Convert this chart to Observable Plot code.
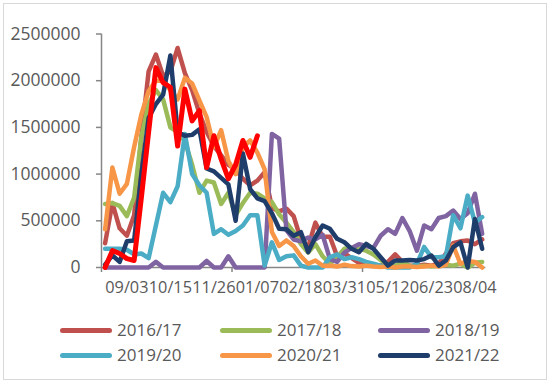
<!DOCTYPE html>
<html><head><meta charset="utf-8">
<script src="https://cdn.jsdelivr.net/npm/d3@7"></script>
<script src="https://cdn.jsdelivr.net/npm/@observablehq/plot@0.6"></script>
<style>
body{margin:0;background:#fff;font-family:"Open Sans",sans-serif;}
#frame{position:absolute;left:3px;top:3px;width:542px;height:375px;border:1px solid #d9d9d9;box-sizing:content-box;}
#chart{position:absolute;left:0;top:0;}
#legend{position:absolute;left:0;top:300px;width:550px;height:80px;}
.item{position:absolute;display:flex;align-items:center;font-size:17px;color:#595959;height:24px;line-height:24px;}
.sw{width:52px;height:5px;border-radius:3px;margin-right:5px;}
</style></head><body>
<div id="frame"></div>
<div id="chart"></div>
<div id="legend"></div>
<script>
// weekly categories (Tuesdays)
const weeks = ["08/13","08/20","08/27","09/03","09/10","09/17","09/24","10/01","10/08","10/15",
  "10/22","10/29","11/05","11/12","11/19","11/26","12/03","12/10","12/17","12/24",
  "12/31","01/07","01/14","01/21","01/28","02/04","02/11","02/18","02/25","03/03",
  "03/10","03/17","03/24","03/31","04/07","04/14","04/21","04/28","05/05","05/12",
  "05/19","05/26","06/02","06/09","06/16","06/23","06/30","07/07","07/14","07/21",
  "07/28","08/04","08/11"];
const labelWeeks = ["09/03","10/15","11/26","01/07","02/18","03/31","05/12","06/23","08/04"];
const yTicks = [0, 500000, 1000000, 1500000, 2000000, 2500000];

const seasons = ["2016/17","2017/18","2018/19","2019/20","2020/21","2021/22","2022/23"];
const colors  = ["#C0504D","#9BBB59","#8064A2","#4BACC6","#F79646","#1F3D6B","#FF0000"];
const legendSeasons = ["2016/17","2017/18","2018/19","2019/20","2020/21","2021/22"];

const s2016 = [260000,690000,420000,340000,560000,1400000,2100000,2280000,2050000,2100000,
  2350000,2080000,1900000,1650000,1450000,1300000,1200000,1100000,1050000,950000,
  880000,930000,1020000,640000,600000,630000,550000,300000,220000,480000,
  330000,330000,120000,150000,100000,50000,40000,30000,20000,60000,
  140000,60000,20000,20000,30000,20000,40000,150000,260000,280000,
  290000,250000,300000];
const s2017 = [680000,690000,660000,550000,750000,1400000,1750000,1900000,1800000,1500000,
  1450000,1350000,1100000,800000,930000,910000,680000,800000,560000,690000,
  800000,790000,740000,700000,570000,480000,380000,250000,160000,250000,
  120000,40000,110000,200000,210000,200000,180000,140000,80000,30000,
  20000,60000,20000,10000,20000,10000,20000,30000,20000,40000,
  0,50000,60000];
const s2018 = [0,0,0,0,0,0,0,60000,0,0,
  0,0,0,0,70000,0,0,120000,0,0,
  0,0,0,1430000,1380000,400000,300000,280000,320000,300000,
  350000,90000,60000,160000,210000,250000,230000,210000,340000,410000,
  360000,530000,390000,180000,450000,410000,530000,550000,610000,520000,
  580000,790000,360000];
const s2019 = [200000,200000,200000,190000,140000,150000,100000,450000,800000,700000,
  870000,1430000,1000000,880000,800000,360000,410000,350000,390000,450000,
  560000,560000,20000,270000,80000,120000,130000,20000,0,0,
  0,110000,140000,90000,110000,90000,60000,40000,20000,0,
  0,0,0,40000,220000,110000,110000,120000,560000,420000,
  770000,480000,540000];
const s2020 = [410000,1070000,790000,895000,1290000,1640000,1890000,2000000,2000000,1900000,
  1800000,2030000,1970000,1790000,1610000,1290000,1470000,1140000,1000000,1290000,
  1360000,1230000,1050000,380000,230000,290000,230000,120000,40000,75000,
  20000,20000,10000,30000,15000,10000,20000,10000,5000,10000,
  0,10000,10000,5000,10000,20000,10000,30000,235000,40000,
  70000,60000,0];
const s2021 = [30000,130000,60000,280000,290000,1000000,1600000,1750000,1850000,2270000,
  1450000,1410000,1420000,1480000,1060000,1030000,960000,890000,500000,1220000,
  840000,740000,710000,580000,415000,410000,340000,378000,165000,324000,
  450000,414000,307000,270000,200000,164000,253000,200000,110000,21000,
  75000,75000,80000,75000,90000,128000,21000,75000,217000,270000,
  0,520000,200000];
const s2022 = [0,180000,150000,95000,75000,750000,1450000,2140000,1980000,1930000,
  1300000,1910000,1570000,1680000,1070000,1410000,1160000,950000,1100000,1360000,
  1180000,1410000];

const seriesValues = [s2016, s2017, s2018, s2019, s2020, s2021, s2022];
const rows = [];
seriesValues.forEach((vals, k) => vals.forEach((v, i) => rows.push({season: seasons[k], week: weeks[i], i, v})));

const tickIdx = [-0.5, 17.5, 35.5];
const labelIdx = labelWeeks.map(w => weeks.indexOf(w));

const lineMarks = seasons.map(s => Plot.line(rows.filter(d => d.season === s), {
  x: "i", y: "v", stroke: "season",
  strokeWidth: s === "2022/23" ? 5 : 4.5,
  strokeLinejoin: "round", strokeLinecap: "round"
}));

const chart = Plot.plot({
  width: 550, height: 300,
  marginLeft: 101, marginRight: 64.7, marginTop: 33.5, marginBottom: 33,
  style: {fontFamily: "Open Sans, sans-serif", fontSize: "17px", color: "#595959", background: "transparent", overflow: "visible"},
  x: {domain: [-0.5, 52.5], axis: null},
  y: {domain: [0, 2500000], axis: null},
  color: {domain: seasons, range: colors},
  marks: [
    Plot.ruleY([0], {stroke: "#868686", strokeWidth: 1.5}),
    Plot.ruleX([-0.5], {stroke: "#868686", strokeWidth: 1.5}),
    Plot.axisY({ticks: yTicks, label: null, tickSize: 5, tickPadding: 16, tickFormat: d => String(d), stroke: "#868686", strokeWidth: 1.5, fill: "#595959", fontSize: 17.5}),
    Plot.axisX({ticks: tickIdx, label: null, tickSize: 5, tickFormat: () => "", stroke: "#868686", strokeWidth: 1.5}),
    Plot.axisX({ticks: labelIdx, label: null, tickSize: 0, tickPadding: 14.3, tickFormat: i => weeks[i], fill: "#595959", fontSize: 16.3}),
    ...lineMarks
  ]
});
document.getElementById("chart").appendChild(chart);

// legend below the chart
const legend = document.getElementById("legend");
const colX = [60, 220, 378];
const rowY = [18, 43];
legendSeasons.forEach((s, k) => {
  const it = document.createElement("div");
  it.className = "item";
  it.style.left = colX[k % 3] + "px";
  it.style.top = rowY[Math.floor(k / 3)] + "px";
  const sw = document.createElement("span");
  sw.className = "sw";
  sw.style.background = colors[seasons.indexOf(s)];
  const tx = document.createElement("span");
  tx.textContent = s;
  it.appendChild(sw); it.appendChild(tx);
  legend.appendChild(it);
});
</script>
</body></html>
